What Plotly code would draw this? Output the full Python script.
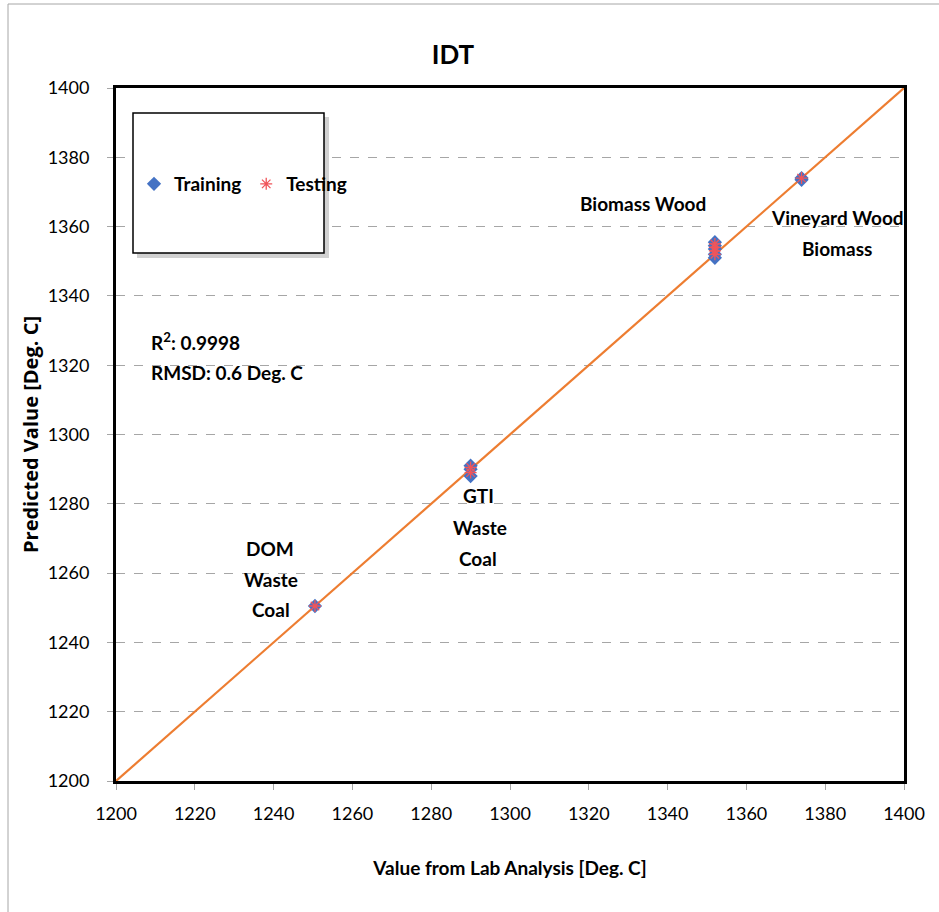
import plotly.graph_objects as go

# Lab-measured vs. predicted initial deformation temperature (IDT)
train_x = [1250.5, 1290, 1290, 1290, 1352, 1352, 1352, 1352, 1352, 1374, 1374]
train_y = [1250.5, 1288, 1290, 1291, 1351, 1352, 1353.5, 1354.5, 1355.5, 1373.5, 1374]
test_x = [1250.5, 1290, 1290, 1352, 1352, 1352, 1352, 1374]
test_y = [1250.5, 1289, 1290.5, 1352, 1353, 1354, 1355, 1374]
parity = [1200, 1400]
ticks = list(range(1200, 1401, 20))

FONT = "Lato, Open Sans, sans-serif"

fig = go.Figure()
fig.add_trace(go.Scatter(
    x=parity, y=parity, mode="lines", showlegend=False,
    line=dict(color="#ED7D31", width=2.2), hoverinfo="skip"))
fig.add_trace(go.Scatter(
    x=train_x, y=train_y, mode="markers", name="Training",
    marker=dict(symbol="diamond", color="#4472C4", size=11)))
fig.add_trace(go.Scatter(
    x=test_x, y=test_y, mode="markers", name="Testing",
    marker=dict(symbol="asterisk-open", color="#F0555A", size=10,
                line=dict(color="#F0555A", width=1.3))))

L, R, T, B = 116, 35, 88, 131
W, H = 939, 912
pw, ph = W - L - R, H - T - B


def px(xp):
    return (xp - L) / pw


def py(yp):
    return (H - B - yp) / ph


shapes = [
    # legend frame with soft drop shadow
    dict(type="rect", xref="paper", yref="paper",
         x0=px(137), x1=px(329), y0=py(258), y1=py(117),
         fillcolor="rgba(0,0,0,0.18)", line=dict(width=0), layer="below"),
    dict(type="rect", xref="paper", yref="paper",
         x0=px(133), x1=px(324), y0=py(253), y1=py(113),
         fillcolor="white", line=dict(color="black", width=1.5)),
    # outer chart frame (left and top edges)
    dict(type="line", xref="paper", yref="paper",
         x0=px(8), x1=px(8), y0=py(4), y1=py(912),
         line=dict(color="#A6A6A6", width=1)),
    dict(type="line", xref="paper", yref="paper",
         x0=px(8), x1=px(939), y0=py(4), y1=py(4),
         line=dict(color="#A6A6A6", width=1)),
]

ann_font = dict(family=FONT, size=19, color="black", weight="bold")

# (text, centre x px, centre y px, anchor)
labels = [
    ("Biomass Wood", 643, 203, "center"),
    ("Vineyard Wood", 837, 217, "center"),
    ("Biomass", 837, 248, "center"),
    ("GTI", 478, 495, "center"),
    ("Waste", 480, 527, "center"),
    ("Coal", 478, 558, "center"),
    ("DOM", 270, 548, "center"),
    ("Waste", 271, 579, "center"),
    ("Coal", 271, 609, "center"),
    ("R<sup>2</sup>: 0.9998", 149, 341, "left"),
    ("RMSD: 0.6 Deg. C", 149, 372, "left"),
]
annotations = [
    dict(x=px(xp), y=py(yp), xref="paper", yref="paper", text=t,
         showarrow=False, xanchor=anc, yanchor="middle", font=ann_font)
    for t, xp, yp, anc in labels
]

fig.update_layout(
    width=W, height=H,
    margin=dict(l=L, r=R, t=T, b=B),
    paper_bgcolor="white", plot_bgcolor="white",
    title=dict(text="IDT", xref="container", x=453 / W, xanchor="center",
               yref="container", y=1 - 55 / H, yanchor="middle",
               font=dict(family=FONT, size=26, color="black", weight="bold")),
    showlegend=True,
    legend=dict(orientation="h", x=px(134), y=py(184), xanchor="left",
                yanchor="middle", bgcolor="rgba(0,0,0,0)",
                font=dict(family=FONT, size=19, color="black", weight="bold"),
                itemwidth=30, tracegroupgap=0),
    shapes=shapes, annotations=annotations,
)

fig.update_xaxes(
    range=[1200, 1400], tickvals=ticks, showgrid=False, zeroline=False,
    showline=True, linecolor="black", linewidth=3, mirror=True,
    ticks="outside", ticklen=6, tickcolor="#A6A6A6",
    ticklabelstandoff=8,
    tickfont=dict(family=FONT, size=18, color="black"),
    title=dict(text="Value from Lab Analysis [Deg. C]", standoff=40,
               font=dict(family=FONT, size=19, color="black", weight="bold")),
)
fig.update_yaxes(
    range=[1200, 1400], tickvals=ticks, showgrid=True, gridcolor="#A6A6A6",
    griddash="dash", gridwidth=1, zeroline=False,
    showline=True, linecolor="black", linewidth=3, mirror=True,
    ticks="outside", ticklen=6, tickcolor="#A6A6A6",
    ticklabelstandoff=14,
    tickfont=dict(family=FONT, size=18, color="black"),
    title=dict(text="Predicted Value [Deg. C]", standoff=4,
               font=dict(family="Open Sans, sans-serif", size=20,
                         color="black", weight="bold")),
)

fig.write_html("out.html")
